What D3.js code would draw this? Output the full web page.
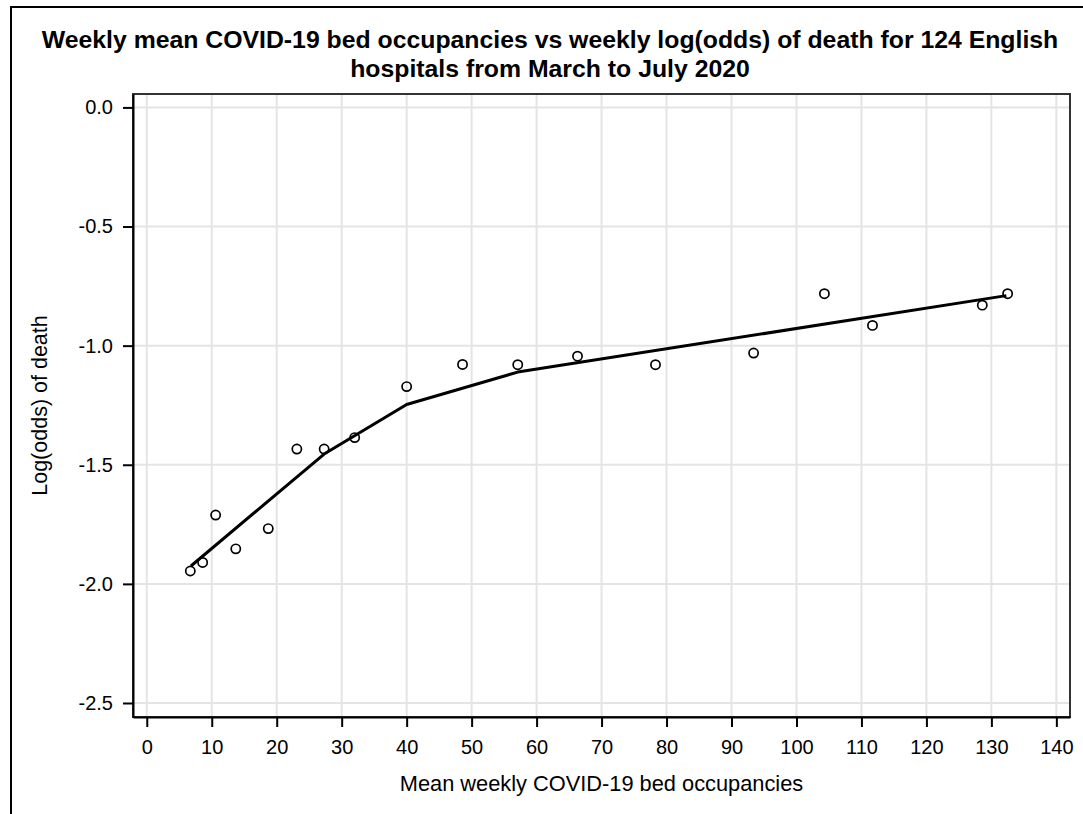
<!DOCTYPE html>
<html>
<head>
<meta charset="utf-8">
<script src="https://cdn.jsdelivr.net/npm/d3@7"></script>
<style>
  body { margin: 0; background: #fff; }
  text { font-family: "Liberation Sans", Arial, sans-serif; fill: #000; }
</style>
</head>
<body>
<svg id="chart"></svg>
<script>
// observed weekly values
const occupancy = [6.7, 8.6, 10.6, 13.7, 18.7, 23.1, 27.3, 32.0, 40.0, 48.6, 57.1, 66.3, 78.3, 93.4, 104.3, 111.7, 128.6, 132.5];
const logOdds = [-1.946, -1.910, -1.711, -1.853, -1.768, -1.434, -1.434, -1.386, -1.172, -1.079, -1.080, -1.044, -1.080, -1.031, -0.782, -0.915, -0.830, -0.782];

// fitted piecewise line
const fitX = [6.8, 27.3, 40.0, 57.1, 132.3];
const fitY = [-1.925, -1.455, -1.247, -1.111, -0.790];

const xTicks = [0, 10, 20, 30, 40, 50, 60, 70, 80, 90, 100, 110, 120, 130, 140];
const yTicks = [0, -0.5, -1.0, -1.5, -2.0, -2.5];

const titleLines = [
  "Weekly mean COVID-19 bed occupancies vs weekly log(odds) of death for 124 English",
  "hospitals from March to July 2020"
];
const xLabel = "Mean weekly COVID-19 bed occupancies";
const yLabel = "Log(odds) of death";

// layout
const W = 1083, H = 814;
const margin = {top: 94, left: 133};
const width = 937;
const height = 623;

const root = d3.select('#chart')
    .attr('width', W)
    .attr('height', H);

// outer border
root.append('rect')
    .attr('x', 11).attr('y', 7)
    .attr('width', W + 20).attr('height', H + 20)
    .attr('fill', 'none')
    .attr('stroke', '#000')
    .attr('stroke-width', 2);

// title
root.append('text')
    .attr('text-anchor', 'middle')
    .style('font-size', '24.8px')
    .style('font-weight', 'bold')
    .selectAll('tspan')
    .data(titleLines)
    .enter()
    .append('tspan')
    .attr('x', 550)
    .attr('y', (d, i) => 48 + i * 28.5)
    .text(d => d);

const svg = root.append('g')
    .attr('transform', 'translate(' + margin.left + ',' + margin.top + ')');

const x = d3.scaleLinear()
    .domain([-2.12, 142.1])
    .range([0, width]);

const y = d3.scaleLinear()
    .domain([0.0563, -2.5588])
    .range([0, height]);

// grid
svg.append('g')
    .selectAll('line')
    .data(xTicks)
    .enter()
    .append('line')
    .attr('x1', d => x(d)).attr('x2', d => x(d))
    .attr('y1', 0).attr('y2', height)
    .attr('stroke', '#e4e4e4')
    .attr('stroke-width', 2);

svg.append('g')
    .selectAll('line')
    .data(yTicks)
    .enter()
    .append('line')
    .attr('x1', 0).attr('x2', width)
    .attr('y1', d => y(d)).attr('y2', d => y(d))
    .attr('stroke', '#e4e4e4')
    .attr('stroke-width', 2);

// fit line
const fit = fitX.map((d, i) => [d, fitY[i]]);
svg.append('path')
    .datum(fit)
    .attr('fill', 'none')
    .attr('stroke', '#000')
    .attr('stroke-width', 3)
    .attr('stroke-linejoin', 'round')
    .attr('d', d3.line().x(d => x(d[0])).y(d => y(d[1])));

// points
svg.selectAll('circle')
    .data(occupancy)
    .enter()
    .append('circle')
    .attr('cx', d => x(d))
    .attr('cy', (d, i) => y(logOdds[i]))
    .attr('r', 4.6)
    .attr('fill', 'none')
    .attr('stroke', '#000')
    .attr('stroke-width', 1.7);

// frame
svg.append('rect')
    .attr('width', width)
    .attr('height', height)
    .attr('fill', 'none')
    .attr('stroke', '#333')
    .attr('stroke-width', 2);

// axes
const xAxis = svg.append('g')
    .attr('transform', 'translate(0,' + height + ')')
    .call(d3.axisBottom(x).tickValues(xTicks).tickSize(10).tickSizeOuter(0).tickPadding(13));

const yAxis = svg.append('g')
    .call(d3.axisLeft(y).tickValues(yTicks).tickFormat(d => d.toFixed(1)).tickSize(10).tickSizeOuter(0).tickPadding(10));

[xAxis, yAxis].forEach(function(a) {
  a.select('.domain').attr('stroke', '#000').attr('stroke-width', 2);
  a.selectAll('.tick line').attr('stroke', '#000').attr('stroke-width', 2);
  a.selectAll('.tick text')
      .attr('fill', '#000')
      .style('font-family', '"Liberation Sans", Arial, sans-serif')
      .style('font-size', '20px');
});

// axis labels
root.append('text')
    .attr('x', margin.left + width / 2)
    .attr('y', 791)
    .attr('text-anchor', 'middle')
    .style('font-size', '21.8px')
    .text(xLabel);

root.append('text')
    .attr('transform', 'translate(47,' + (margin.top + height / 2) + ') rotate(-90)')
    .attr('text-anchor', 'middle')
    .style('font-size', '21.5px')
    .text(yLabel);
</script>
</body>
</html>
